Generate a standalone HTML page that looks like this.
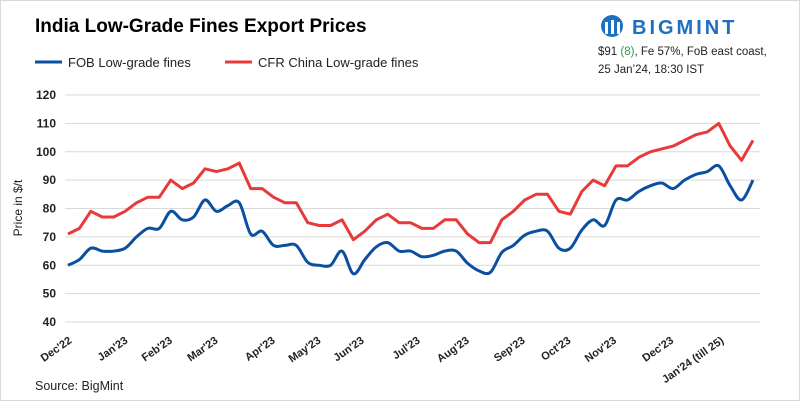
<!DOCTYPE html>
<html><head><meta charset="utf-8"><style>
body{margin:0;background:#fff;font-family:"Liberation Sans",sans-serif}
#c{position:relative;width:800px;height:401px;overflow:hidden}
</style></head><body>
<div id="c">
<svg width="800" height="401" id="svg">
<rect x="0.5" y="0.5" width="799" height="400" fill="#fff" stroke="#d9d9d9"/>
<text x="35" y="32" font-size="19" font-weight="bold" fill="#000">India Low-Grade Fines Export Prices</text>
<line x1="35" y1="62" x2="62" y2="62" stroke="#0b4fa0" stroke-width="3"/>
<text x="68" y="67" font-size="13" fill="#222">FOB Low-grade fines</text>
<line x1="225" y1="62" x2="252" y2="62" stroke="#e83a3a" stroke-width="3"/>
<text x="258" y="67" font-size="13" fill="#222">CFR China Low-grade fines</text>
<g>
<circle cx="612" cy="26" r="11" fill="#1e6fc0"/>
<rect x="605" y="22" width="3" height="12" fill="#fff"/><rect x="611" y="20" width="3" height="14" fill="#fff"/><rect x="617" y="22" width="3" height="12" fill="#fff"/>
<text x="632" y="34" font-size="20" font-weight="bold" fill="#1e6fc0" letter-spacing="3">BIGMINT</text>
</g>
<text x="598" y="55" font-size="11.5" fill="#222">$91 <tspan fill="#2a9d4a">(8)</tspan>, Fe 57%, FoB east coast,</text>
<text x="598" y="73" font-size="11.5" fill="#222">25 Jan’24, 18:30 IST</text>
<text transform="translate(22,208) rotate(-90)" font-size="12" text-anchor="middle" fill="#222">Price in $/t</text>
<text x="35" y="390" font-size="12.5" fill="#222">Source: BigMint</text>
<g id="grid"></g><g id="xl"></g><g id="lines"></g>
</svg>
</div>
<script>
const yTicks=[40,50,60,70,80,90,100,110,120];
const xLabels=["Dec'22","Jan'23","Feb'23","Mar'23","Apr'23","May'23","Jun'23","Jul'23","Aug'23","Sep'23","Oct'23","Nov'23","Dec'23","Jan'24 (till 25)"];
const xLabelIdx=[0.4,5.3,9.2,13.2,18.2,22.2,26,30.9,35.2,40.1,44.1,48.1,53.1,57.5];
const cfr=[71,73,79,77,77,79,82,84,84,90,87,89,94,93,94,96,87,87,84,82,82,75,74,74,76,69,72,76,78,75,75,73,73,76,76,71,68,68,76,79,83,85,85,79,78,86,90,88,95,95,98,100,101,102,104,106,107,110,102,97,104];
const fob=[60,62,66,65,65,66,70,73,73,79,76,77,83,79,81,82,71,72,67,67,67,61,60,60,65,57,62,66.5,68,65,65,63,63.5,65,65,60.7,58,57.5,64.5,67,70.6,72,72,66,66,72.4,76,74,83,83,86,88,89,87,90,92,93,95,88,83,90];
const NS='http://www.w3.org/2000/svg';
const X0=68,X1=753,Y0=322,Y1=95;
const xs=i=>X0+(X1-X0)*i/(cfr.length-1);
const ys=v=>Y0-(v-40)*(Y0-Y1)/80;
const g=document.getElementById('grid'),xl=document.getElementById('xl'),L=document.getElementById('lines');
yTicks.forEach(t=>{
 const l=document.createElementNS(NS,'line');
 l.setAttribute('x1',65);l.setAttribute('x2',760);l.setAttribute('y1',ys(t));l.setAttribute('y2',ys(t));
 l.setAttribute('stroke','#d9d9d9');l.setAttribute('stroke-width','1');
 
 
 g.appendChild(l);
 const tx=document.createElementNS(NS,'text');
 tx.setAttribute('x',56);tx.setAttribute('y',ys(t)+4);tx.setAttribute('text-anchor','end');
 tx.setAttribute('font-size','12');tx.setAttribute('font-weight','bold');tx.setAttribute('fill','#222');
 tx.textContent=t;
 
 
 g.appendChild(tx);
});
xLabels.forEach((s,k)=>{
 const tx=document.createElementNS(NS,'text');
 const x=xs(xLabelIdx[k]);
 tx.setAttribute('transform','translate('+x+',342) rotate(-35)');
 tx.setAttribute('text-anchor','end');tx.setAttribute('font-size','11');tx.setAttribute('font-weight','bold');tx.setAttribute('fill','#222');
 tx.textContent=s;
 
 
 xl.appendChild(tx);
});
function line(arr,col,name,smooth){
 const p=document.createElementNS(NS,'path');
 let d='';
 if(!smooth){arr.forEach((v,i)=>{d+=(i?'L':'M')+xs(i).toFixed(1)+','+ys(v).toFixed(1);});}
 else{
  const P=arr.map((v,i)=>[xs(i),ys(v)]);
  d='M'+P[0][0]+','+P[0][1];
  for(let i=0;i<P.length-1;i++){
   const p0=P[i-1]||P[i],p1=P[i],p2=P[i+1],p3=P[i+2]||P[i+1];
   const c1=[p1[0]+(p2[0]-p0[0])/6,p1[1]+(p2[1]-p0[1])/6],c2=[p2[0]-(p3[0]-p1[0])/6,p2[1]-(p3[1]-p1[1])/6];
   d+='C'+c1[0].toFixed(1)+','+c1[1].toFixed(1)+' '+c2[0].toFixed(1)+','+c2[1].toFixed(1)+' '+p2[0].toFixed(1)+','+p2[1].toFixed(1);
  }
 }
 p.setAttribute('d',d);p.setAttribute('fill','none');p.setAttribute('stroke',col);p.setAttribute('stroke-width','3');
 p.setAttribute('stroke-linejoin','round');
 
 
 L.appendChild(p);
}
line(cfr,'#e83a3a','cfr-china-line',false);
line(fob,'#0b4fa0','fob-line',true);
</script>
</body></html>
